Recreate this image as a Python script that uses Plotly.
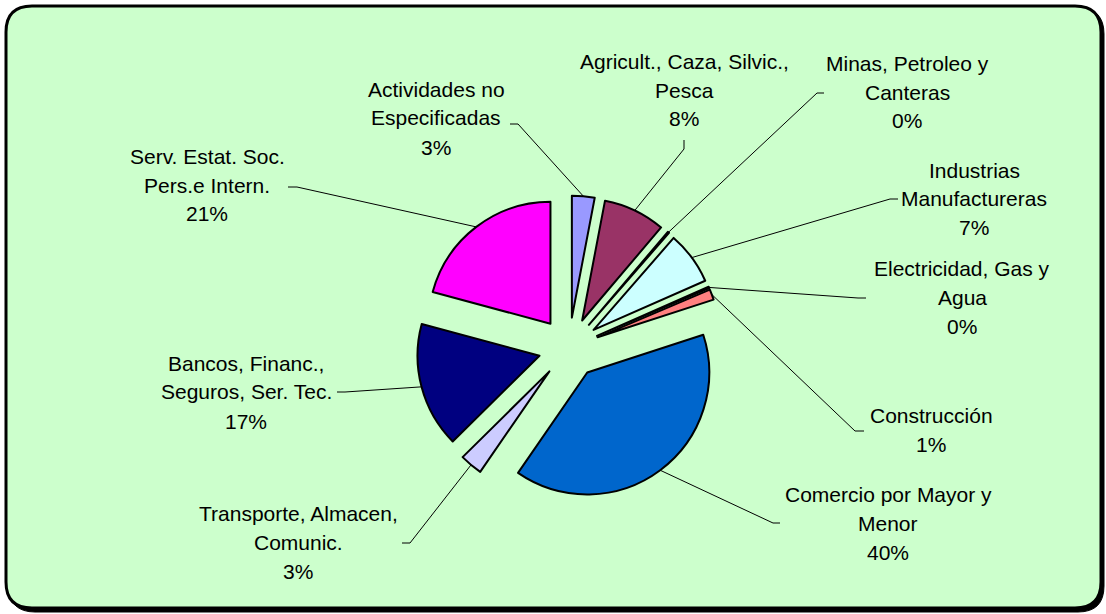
import math
import plotly.graph_objects as go

# ---------------- data ----------------
sectors = [
    "Actividades no Especificadas",
    "Agricult., Caza, Silvic., Pesca",
    "Minas, Petroleo y Canteras",
    "Industrias Manufactureras",
    "Electricidad, Gas y Agua",
    "Construcción",
    "Comercio por Mayor y Menor",
    "Transporte, Almacen, Comunic.",
    "Bancos, Financ., Seguros, Ser. Tec.",
    "Serv. Estat. Soc. Pers.e Intern.",
]
label_lines = [
    ["Actividades no", "Especificadas"],
    ["Agricult., Caza, Silvic.,", "Pesca"],
    ["Minas, Petroleo y", "Canteras"],
    ["Industrias", "Manufactureras"],
    ["Electricidad, Gas y", "Agua"],
    ["Construcción"],
    ["Comercio por Mayor y", "Menor"],
    ["Transporte, Almacen,", "Comunic."],
    ["Bancos, Financ.,", "Seguros, Ser. Tec."],
    ["Serv. Estat. Soc.", "Pers.e Intern."],
]
shares = [3.0, 8.2, 0.2, 7.0, 0.2, 1.4, 39.6, 3.0, 16.6, 20.8]
colors = ["#9999FF", "#993366", "#FFFFCC", "#CCFFFF", "#660066",
          "#FF8080", "#0066CC", "#CCCCFF", "#000080", "#FF00FF"]

# ---------------- layout constants (pixels) ----------------
W, H = 1106, 614
PIE_CX, PIE_CY, PIE_R = 569, 348, 122
PULL = 0.25
BOX = 2 * PIE_R * (1 + PULL)

# label block positions: centre x, first-line y
label_pos = [(436, 89), (684, 61), (907, 63), (974, 170), (962, 268),
             (931, 415), (888, 494), (298, 513), (246, 363), (207, 156)]
# leader start / elbow points on the label side
leader_start = [((510, 124), (518, 124)), ((684, 140), (684, 149)),
                ((824, 93), (817, 93)), ((898, 199), (890, 199)),
                ((866, 298), (858, 298)), ((864, 431), (855, 431)),
                ((780, 523), (773, 523)), ((402, 543), (410, 543)),
                ((337, 392), (345, 392)), ((288, 187), (297, 187))]
LINE_H = 29
FONT = dict(family="Liberation Sans, Arial, sans-serif", size=21, color="black")


def fx(px):
    return px / W


def fy(py):
    return 1 - py / H


def rounded_path(x0, y0, x1, y1, r):
    pts = []
    pts.append(f"M {fx(x0 + r)},{fy(y0)}")
    pts.append(f"L {fx(x1 - r)},{fy(y0)}")
    pts.append(f"Q {fx(x1)},{fy(y0)} {fx(x1)},{fy(y0 + r)}")
    pts.append(f"L {fx(x1)},{fy(y1 - r)}")
    pts.append(f"Q {fx(x1)},{fy(y1)} {fx(x1 - r)},{fy(y1)}")
    pts.append(f"L {fx(x0 + r)},{fy(y1)}")
    pts.append(f"Q {fx(x0)},{fy(y1)} {fx(x0)},{fy(y1 - r)}")
    pts.append(f"L {fx(x0)},{fy(y0 + r)}")
    pts.append(f"Q {fx(x0)},{fy(y0)} {fx(x0 + r)},{fy(y0)}")
    pts.append("Z")
    return " ".join(pts)


fig = go.Figure()
fig.add_trace(go.Pie(
    values=shares,
    labels=sectors,
    sort=False,
    direction="clockwise",
    rotation=0,
    pull=[PULL] * len(shares),
    marker=dict(colors=colors, line=dict(color="black", width=2)),
    textinfo="none",
    hoverinfo="label+percent",
    showlegend=False,
    domain=dict(
        x=[fx(PIE_CX - BOX / 2), fx(PIE_CX + BOX / 2)],
        y=[fy(PIE_CY + BOX / 2), fy(PIE_CY - BOX / 2)],
    ),
))

shapes = []
# shadow and frame
shapes.append(dict(type="path", xref="paper", yref="paper", layer="below",
                   path=rounded_path(9, 8, 1104, 612, 26),
                   fillcolor="black", line=dict(color="black", width=1)))
shapes.append(dict(type="path", xref="paper", yref="paper", layer="below",
                   path=rounded_path(6, 6, 1101, 608, 26),
                   fillcolor="#CCFFCC", line=dict(color="black", width=3)))

total = sum(shares)
annotations = []
cum = 0.0
for i, v in enumerate(shares):
    mid = (cum + v / 2) / total * 2 * math.pi
    cum += v
    rr = PIE_R * (1 + PULL)
    ex = PIE_CX + rr * math.sin(mid)
    ey = PIE_CY - rr * math.cos(mid)
    (sx, sy), (bx, by) = leader_start[i]
    shapes.append(dict(type="path", xref="paper", yref="paper", layer="above",
                       path=f"M {fx(sx)},{fy(sy)} L {fx(bx)},{fy(by)} L {fx(ex)},{fy(ey)}",
                       line=dict(color="black", width=1)))
    lines = label_lines[i] + [f"{round(v / total * 100)}%"]
    lx, ly = label_pos[i]
    for k, t in enumerate(lines):
        annotations.append(dict(text=t, x=fx(lx), y=fy(ly + k * LINE_H),
                                xref="paper", yref="paper", showarrow=False,
                                xanchor="center", yanchor="middle", font=FONT))

fig.update_layout(
    width=W, height=H,
    margin=dict(l=0, r=0, t=0, b=0),
    paper_bgcolor="white",
    plot_bgcolor="white",
    showlegend=False,
    shapes=shapes,
    annotations=annotations,
)

fig.write_html(
    "out.html",
    config={"displayModeBar": False},
    post_script="document.body.style.margin='0';document.body.style.overflow='hidden';",
)
